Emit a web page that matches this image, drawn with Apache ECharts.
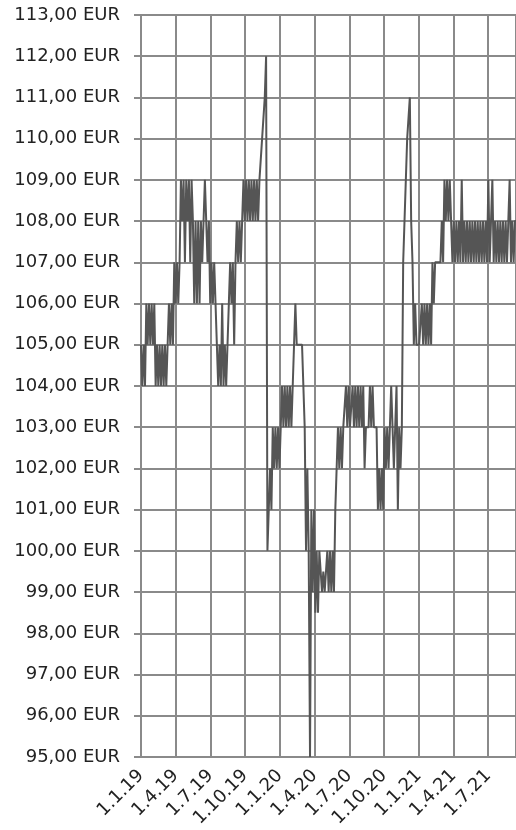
<!DOCTYPE html>
<html>
<head>
<meta charset="utf-8">
<script src="https://cdn.jsdelivr.net/npm/echarts@6/dist/echarts.min.js"></script>
<style>
html, body { margin: 0; padding: 0; background: #fff; }
#chart { width: 516px; height: 830px; }
</style>
</head>
<body>
<div id="chart"></div>
<script>
// Kurs, zweimal pro Woche ab 1.1.19
var prices = [
    105, 104, 105, 104, 106, 105, 106, 105, 106, 105,
    106, 104, 105, 104, 105, 104, 105, 104, 105, 104,
    105, 106, 105, 106, 105, 107, 106, 107, 106, 107,
    109, 108, 109, 107, 109, 108, 109, 107, 109, 108,
    106, 108, 106, 108, 106, 108, 107, 108, 109, 108,
    107, 108, 106, 107, 106, 107, 106, 105, 104, 105,
    104, 106, 104, 105, 104, 105, 106, 107, 106, 107,
    105, 107, 108, 107, 108, 107, 108, 109, 108, 109,
    108, 109, 108, 109, 108, 109, 108, 109, 108, 109,
    109, 110, 110, 111, 112, 100, 101, 102, 101, 103,
    102, 103, 102, 103, 102, 103, 104, 103, 104, 103,
    104, 103, 104, 103, 104, 105, 106, 105, 105, 105,
    105, 105, 105, 103, 100, 102, 100, 95, 101, 99,
    101, 98.5, 100, 98.5, 100, 99.5, 99, 99.5, 99, 99.5,
    100, 99, 100, 99, 100, 99, 101, 102, 103, 102,
    103, 102, 103, 103, 104, 103, 104, 103, 103, 104,
    103, 104, 103, 104, 103, 104, 103, 104, 102, 103,
    103, 103, 104, 103, 104, 103, 103, 103, 101, 102,
    101, 102, 101, 103, 102, 103, 102, 103, 104, 103,
    102, 103, 104, 101, 103, 102, 103, 107, 108, 108,
    110, 110, 111, 108, 107, 105, 106, 105, 105, 105,
    105, 106, 105, 106, 105, 106, 105, 106, 105, 107,
    106, 107, 107, 107, 107, 107, 108, 107, 109, 108,
    109, 108, 109, 108, 107, 108, 107, 108, 107, 108,
    107, 109, 107, 108, 107, 108, 107, 108, 107, 108,
    107, 108, 107, 108, 107, 108, 107, 108, 107, 108,
    107, 109, 107, 108, 109, 107, 108, 107, 108, 107,
    108, 107, 108, 107, 108, 107, 108, 109, 107, 108,
    107, 108, 108
];
var stepMonths = 6 / 52.18;   // halbe Woche in Monaten
var yTicks = { min: 95, max: 113, step: 1 };

var lineData = prices.map(function (p, i) {
    return [i * stepMonths, p];
});

var chart = echarts.init(document.getElementById('chart'));
var gridColor = '#8a8a8a';
var labelFont = 'Verdana, "DejaVu Sans", sans-serif';

var option = {
    animation: false,
    grid: { left: 141, right: 0, top: 15, bottom: 73 },
    xAxis: {
        type: 'value',
        min: 0,
        max: 32.4,
        interval: 3,
        axisLine: { show: true, lineStyle: { color: gridColor, width: 2 } },
        axisTick: { show: false },
        splitLine: { show: true, lineStyle: { color: gridColor, width: 2 } },
        axisLabel: {
            rotate: 45,
            color: '#222',
            fontSize: 18,
            fontFamily: labelFont,
            margin: 16,
            showMaxLabel: false,
            formatter: function (v) {
                var m = Math.round(v);
                return '1.' + (m % 12 + 1) + '.' + (19 + Math.floor(m / 12));
            }
        }
    },
    yAxis: {
        type: 'value',
        min: yTicks.min,
        max: yTicks.max,
        interval: yTicks.step,
        axisLine: { show: true, lineStyle: { color: gridColor, width: 2 } },
        axisTick: { show: true, length: 7, lineStyle: { color: gridColor, width: 2 } },
        splitLine: { show: true, lineStyle: { color: gridColor, width: 2 } },
        axisLabel: {
            color: '#222',
            fontSize: 18,
            fontFamily: labelFont,
            margin: 21,
            formatter: function (v) {
                return v.toFixed(2).replace('.', ',') + ' EUR';
            }
        }
    },
    series: [{
        type: 'line',
        data: lineData,
        symbol: 'none',
        lineStyle: { color: '#555555', width: 2 }
    }]
};

chart.setOption(option);
</script>
</body>
</html>
